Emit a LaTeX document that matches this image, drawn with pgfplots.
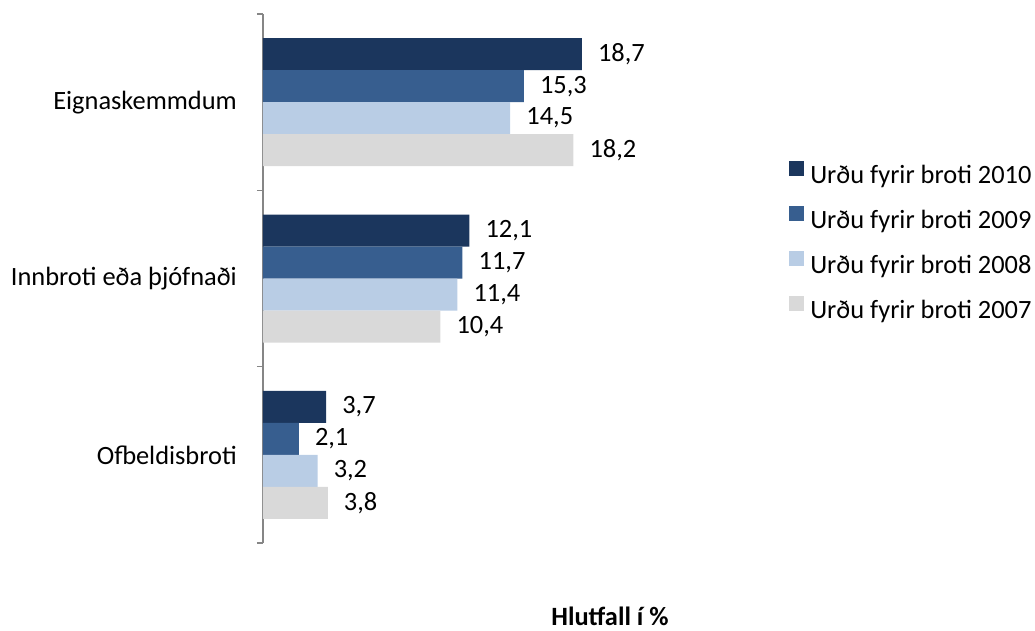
\documentclass[border=0pt]{standalone}
\usepackage{fontspec}
\setmainfont{Carlito}
\usepackage{pgfplots}
\pgfplotsset{compat=1.18}
\definecolor{c2010}{HTML}{1B365D}
\definecolor{c2009}{HTML}{375E8F}
\definecolor{c2008}{HTML}{B9CDE5}
\definecolor{c2007}{HTML}{D9D9D9}
\definecolor{axgray}{HTML}{868686}
\newcommand\f{\fontsize{26.4}{31}\selectfont}
\begin{document}
\begin{tikzpicture}[font=\f]
\path[use as bounding box] (-263pt,-87pt) rectangle (772pt,543pt);
\begin{axis}[
  at={(0pt,0pt)}, anchor=south west,
  scale only axis, width=341pt, height=529pt,
  xmin=0, xmax=20, ymin=-0.5, ymax=2.5,
  xbar, bar width=32pt,
  clip=false,
  axis y line*=left, axis x line=none,
  y axis line style={axgray, line width=1.2pt},
  ytick={0,1,2},
  yticklabels={Ofbeldisbroti, Innbroti eða þjófnaði, Eignaskemmdum},
  major tick length=0pt,
  yticklabel style={font=\f, inner sep=0pt, xshift=-26pt},
  extra y ticks={-0.5,0.5,1.5,2.5},
  extra y tick labels={},
  extra y tick style={major tick length=6pt, tick align=outside,
    tick style={axgray, line width=1.2pt}},
  point meta=x,
  nodes near coords,
  nodes near coords style={font=\f, anchor=west, inner sep=0pt, xshift=16pt},
  /pgf/number format/.cd, use comma, fixed, fixed zerofill, precision=1,
    assume math mode=true, /pgfplots/.cd,
  legend style={at={(axis description cs:1.534,0.568)}, anchor=west,
    draw=none, fill=none, font=\f, row sep=17pt,
    nodes={inner sep=0pt, text height=18pt, text depth=6pt},
    /tikz/every odd column/.append style={column sep=6pt}},
  legend cell align=left,
]
\addplot[fill=c2010, draw=none, bar shift=48pt,
  legend image code/.code={\fill[c2010] (0pt,1pt) rectangle (15pt,16pt);}]
  coordinates {(3.7,0) (12.1,1) (18.7,2)};
\addplot[fill=c2009, draw=none, bar shift=16pt,
  legend image code/.code={\fill[c2009] (0pt,1pt) rectangle (15pt,16pt);}]
  coordinates {(2.1,0) (11.7,1) (15.3,2)};
\addplot[fill=c2008, draw=none, bar shift=-16pt,
  legend image code/.code={\fill[c2008] (0pt,1pt) rectangle (15pt,16pt);}]
  coordinates {(3.2,0) (11.4,1) (14.5,2)};
\addplot[fill=c2007, draw=none, bar shift=-48pt,
  legend image code/.code={\fill[c2007] (0pt,1pt) rectangle (15pt,16pt);}]
  coordinates {(3.8,0) (10.4,1) (18.2,2)};
\legend{Urðu fyrir broti 2010, Urðu fyrir broti 2009, Urðu fyrir broti 2008, Urðu fyrir broti 2007}
\node[font=\f\bfseries] at (rel axis cs:1.0176,-0.138) {Hlutfall í \%};
\end{axis}
\end{tikzpicture}
\end{document}
